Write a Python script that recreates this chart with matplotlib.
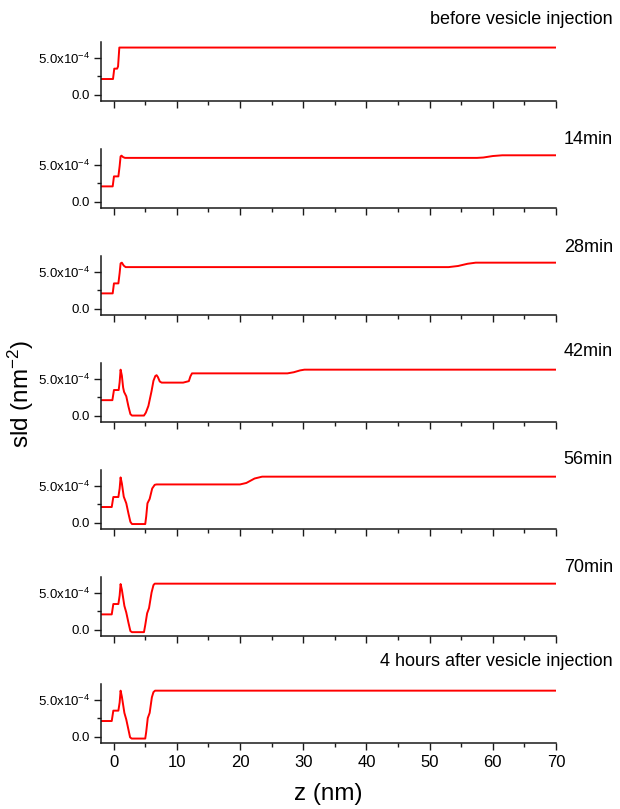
"""Stacked SLD profiles after vesicle injection."""

import matplotlib

matplotlib.use("Agg")
import matplotlib.pyplot as plt  # noqa: E402
from matplotlib.ticker import FixedLocator, MultipleLocator  # noqa: E402

plt.rcParams["font.family"] = ["Liberation Sans", "DejaVu Sans"]
plt.rcParams["mathtext.fontset"] = "custom"
plt.rcParams["mathtext.rm"] = "Liberation Sans"
plt.rcParams["mathtext.it"] = "Liberation Sans:italic"

SCALE = 1e-4  # sld values below are in units of 1e-4 nm^-2

panel_labels = [
    "before vesicle injection",
    "14min",
    "28min",
    "42min",
    "56min",
    "70min",
    "4 hours after vesicle injection",
]

z_before = [-2, -0.1, 0.1, 0.55, 0.7, 0.9, 70]
sld_before = [2.1, 2.1, 3.5, 3.5, 3.8, 6.35, 6.35]

z_14 = [-2, -0.15, 0.05, 0.75, 0.95, 1.1, 1.25, 1.5, 1.8, 57.5, 58.5, 60, 61.5, 70]
sld_14 = [2.05, 2.05, 3.4, 3.4, 4.8, 6.1, 6.2, 6.0, 5.9, 5.9, 5.95, 6.15, 6.25, 6.25]

z_28 = [-2, -0.15, 0.05, 0.75, 0.95, 1.1, 1.3, 1.6, 1.9, 53, 54.5, 56, 57.3, 70]
sld_28 = [2.05, 2.05, 3.4, 3.4, 4.8, 6.1, 6.2, 5.8, 5.6, 5.6, 5.75, 6.05, 6.2, 6.2]

z_42 = [-2, -0.2, 0.05, 0.8, 0.95, 1.1, 1.3, 1.5, 1.65, 2.0, 2.35, 2.65, 2.9, 4.8,
        5.1, 5.5, 6.0, 6.3, 6.6, 6.8, 7.0, 7.3, 7.6, 11.0, 11.9, 12.15, 12.4,
        27.5, 28.5, 29.5, 30.2, 70]
sld_42 = [2.08, 2.08, 3.45, 3.45, 4.5, 6.2, 5.4, 3.8, 3.2, 2.6, 1.2, 0.2, 0.0, 0.0,
          0.4, 1.3, 3.3, 4.7, 5.35, 5.45, 5.2, 4.6, 4.45, 4.45, 4.65, 5.3, 5.7,
          5.7, 5.85, 6.1, 6.2, 6.2]

z_56 = [-2, -0.3, -0.05, 0.75, 0.95, 1.1, 1.3, 1.6, 2.0, 2.35, 2.65, 2.9, 5.0,
        5.15, 5.35, 5.7, 6.1, 6.5, 6.8, 20.0, 21.0, 22.3, 23.5, 70]
sld_56 = [2.1, 2.1, 3.45, 3.45, 4.6, 6.1, 5.3, 3.5, 2.6, 1.2, 0.1, -0.2, -0.2,
          0.8, 2.6, 3.2, 4.6, 5.1, 5.15, 5.15, 5.35, 5.95, 6.2, 6.2]

z_70 = [-2, -0.3, -0.05, 0.75, 0.95, 1.1, 1.3, 1.7, 2.0, 2.35, 2.65, 2.9, 4.8,
        5.0, 5.3, 5.6, 6.0, 6.3, 6.5, 70]
sld_70 = [2.05, 2.05, 3.45, 3.45, 4.6, 6.15, 5.4, 3.2, 2.3, 0.9, -0.2, -0.35, -0.35,
          0.6, 2.2, 2.9, 5.0, 6.0, 6.2, 6.2]

z_4h = [-2, -0.3, -0.05, 0.75, 0.95, 1.1, 1.3, 1.7, 2.0, 2.35, 2.6, 2.85, 5.0,
        5.15, 5.4, 5.7, 6.05, 6.3, 6.55, 70]
sld_4h = [2.1, 2.1, 3.5, 3.5, 4.6, 6.2, 5.4, 3.2, 2.3, 0.9, -0.1, -0.27, -0.27,
          0.6, 2.5, 3.2, 5.3, 6.0, 6.2, 6.2]

profiles = [
    (z_before, sld_before),
    (z_14, sld_14),
    (z_28, sld_28),
    (z_42, sld_42),
    (z_56, sld_56),
    (z_70, sld_70),
    (z_4h, sld_4h),
]
label_y_px = [20, 140, 248, 352, 460, 568, 662]

W, H = 620, 809
fig = plt.figure(figsize=(W / 100, H / 100), dpi=100)

left_px, right_px = 101, 556
first_bottom_px, step_px, height_px = 101, 107, 59

for i, ((z, sld), label) in enumerate(zip(profiles, panel_labels)):
    bottom_px = first_bottom_px + step_px * i
    ax = fig.add_axes([left_px / W, 1 - bottom_px / H, (right_px - left_px) / W, height_px / H])
    ax.plot(z, [v * SCALE for v in sld], color="#ff0000", linewidth=1.4,
            solid_joinstyle="round")
    ax.set_xlim(-2, 70)
    ax.set_ylim(-0.87e-4, 7.1e-4)
    for side in ("top", "right"):
        ax.spines[side].set_visible(False)
    for side in ("left", "bottom"):
        ax.spines[side].set_linewidth(1.1)
        ax.spines[side].set_color("#1a1a1a")
    ax.xaxis.set_major_locator(MultipleLocator(10))
    ax.xaxis.set_minor_locator(MultipleLocator(5))
    ax.yaxis.set_major_locator(FixedLocator([0, 5e-4]))
    ax.yaxis.set_minor_locator(FixedLocator([2.5e-4]))
    ax.set_yticklabels(["0.0", r"5.0x10$^{-4}$"])
    ax.tick_params(which="major", direction="out", length=4.8, width=1.0, color="#1a1a1a")
    ax.tick_params(which="minor", direction="out", length=3.0, width=1.0, color="#1a1a1a")
    ax.tick_params(axis="y", labelsize=9.5, pad=3)
    ax.tick_params(axis="x", labelsize=12, pad=4)
    if i < len(profiles) - 1:
        ax.tick_params(axis="x", labelbottom=False)
    fig.text(613 / W, 1 - label_y_px[i] / H, label, ha="right", va="center", fontsize=13)

fig.text(21 / W, 1 - 394 / H, "sld (nm$^{-2}$)", rotation=90, ha="center", va="center",
         fontsize=17.5)
fig.text(328 / W, 1 - 794 / H, "z (nm)", ha="center", va="center", fontsize=17.5)

fig.savefig("out.png", dpi=100)
plt.close(fig)
